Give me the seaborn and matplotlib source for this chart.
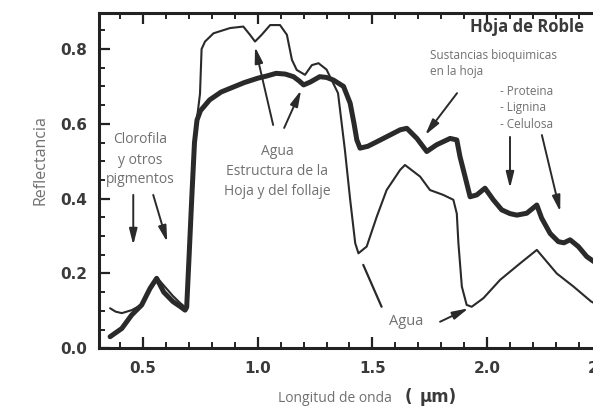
import matplotlib
matplotlib.use("Agg")
import matplotlib.pyplot as plt
from matplotlib.ticker import MultipleLocator, FixedLocator
import seaborn as sns
import pandas as pd

# Espectro de hoja verde (línea fina)
wl_verde = [0.356, 0.38, 0.407, 0.45, 0.48, 0.50, 0.53, 0.559, 0.59, 0.63, 0.66, 0.683,
            0.69, 0.70, 0.712, 0.724, 0.74, 0.748, 0.755, 0.77, 0.807, 0.879, 0.937, 0.966,
            0.988, 1.017, 1.054, 1.097, 1.127, 1.149, 1.17, 1.206, 1.236, 1.265, 1.30,
            1.35, 1.38, 1.403, 1.425, 1.439, 1.475, 1.519, 1.562, 1.621, 1.642, 1.708,
            1.751, 1.809, 1.853, 1.868, 1.875, 1.89, 1.911, 1.933, 1.984, 2.057, 2.144,
            2.217, 2.304, 2.377, 2.454, 2.50]
refl_verde = [0.107, 0.098, 0.094, 0.102, 0.112, 0.12, 0.162, 0.19, 0.168, 0.14, 0.122, 0.11,
              0.115, 0.24, 0.40, 0.56, 0.64, 0.68, 0.80, 0.82, 0.842, 0.856, 0.86, 0.838,
              0.82, 0.838, 0.864, 0.864, 0.838, 0.771, 0.744, 0.731, 0.757, 0.762, 0.745,
              0.682, 0.53, 0.397, 0.281, 0.254, 0.272, 0.352, 0.423, 0.477, 0.49, 0.459,
              0.423, 0.41, 0.397, 0.36, 0.281, 0.165, 0.116, 0.111, 0.134, 0.183, 0.227,
              0.263, 0.20, 0.165, 0.125, 0.11]

# Espectro de hoja seca (línea gruesa)
wl_seca = [0.356, 0.407, 0.45, 0.494, 0.53, 0.559, 0.59, 0.63, 0.661, 0.683, 0.69, 0.70,
           0.712, 0.724, 0.735, 0.75, 0.79, 0.84, 0.88, 0.94, 1.00, 1.04, 1.08, 1.12,
           1.156, 1.18, 1.20, 1.23, 1.27, 1.30, 1.33, 1.374, 1.403, 1.42, 1.432, 1.446,
           1.48, 1.519, 1.57, 1.621, 1.65, 1.694, 1.737, 1.78, 1.839, 1.868, 1.882, 1.904,
           1.926, 1.955, 1.991, 2.027, 2.064, 2.10, 2.13, 2.173, 2.217, 2.238, 2.275,
           2.311, 2.335, 2.362, 2.398, 2.435, 2.47, 2.50]
refl_seca = [0.031, 0.053, 0.089, 0.116, 0.16, 0.187, 0.15, 0.125, 0.112, 0.102, 0.11, 0.24,
             0.40, 0.55, 0.61, 0.635, 0.664, 0.685, 0.695, 0.71, 0.722, 0.728, 0.735, 0.733,
             0.726, 0.715, 0.704, 0.712, 0.726, 0.724, 0.717, 0.70, 0.655, 0.60, 0.557, 0.535,
             0.54, 0.552, 0.568, 0.584, 0.588, 0.561, 0.526, 0.544, 0.561, 0.557, 0.512, 0.459,
             0.405, 0.41, 0.428, 0.397, 0.37, 0.36, 0.356, 0.361, 0.383, 0.348, 0.307,
             0.285, 0.282, 0.29, 0.272, 0.245, 0.23, 0.22]

x_ticks = [0.5, 1.0, 1.5, 2.0, 2.5]
x_tick_labels = ["0.5", "1.0", "1.5", "2.0", "2.5"]
y_ticks = [0.0, 0.2, 0.4, 0.6, 0.8]
y_tick_labels = ["0.0", "0.2", "0.4", "0.6", "0.8"]

sns.set_theme(style="ticks")
plt.rcParams["font.family"] = ["DejaVu Sans"]

INK = "#2a2a2a"
TXT = "#707070"

fig = plt.figure(figsize=(5.93, 4.09), dpi=100)
fig.patch.set_facecolor("white")
ax = fig.add_axes([0.1675, 0.1484, 0.8936, 0.8205])
ax.set_facecolor("white")

verde = pd.DataFrame({"wl": wl_verde, "r": refl_verde})
seca = pd.DataFrame({"wl": wl_seca, "r": refl_seca})
sns.lineplot(data=verde, x="wl", y="r", ax=ax, color=INK, linewidth=1.5,
             sort=False, estimator=None)
sns.lineplot(data=seca, x="wl", y="r", ax=ax, color=INK, linewidth=3.6,
             sort=False, estimator=None)
for ln in ax.get_lines():
    ln.set_solid_joinstyle("round")
    ln.set_solid_capstyle("round")

ax.set_xlim(0.309, 2.62)
ax.set_ylim(0.0, 0.897)

ax.xaxis.set_major_locator(FixedLocator(x_ticks))
ax.set_xticklabels(x_tick_labels)
ax.yaxis.set_major_locator(FixedLocator(y_ticks))
ax.set_yticklabels(y_tick_labels)
ax.xaxis.set_minor_locator(MultipleLocator(0.1))
ax.yaxis.set_minor_locator(MultipleLocator(0.05))
ax.tick_params(which="both", direction="in", top=True, right=False, color="#222222")
ax.tick_params(which="major", length=8, width=1.6, pad=9, labelsize=11,
               labelcolor="#3a3a3a")
ax.tick_params(which="minor", length=4, width=1.4)
for lab in ax.get_xticklabels() + ax.get_yticklabels():
    lab.set_fontweight("bold")

for side in ["left", "bottom", "top"]:
    ax.spines[side].set_linewidth(2.2)
    ax.spines[side].set_color("#222222")
ax.spines["right"].set_visible(False)

ax.set_xlabel("")
ax.set_ylabel("")

# Etiquetas de los ejes
fig.text(40 / 593, 1 - 160 / 409, "Reflectancia", rotation=90, ha="center", va="center",
         fontsize=11.5, color=TXT, family="Open Sans")
fig.text(335 / 593, 1 - 399 / 409, "Longitud de onda", ha="center", va="center",
         fontsize=10, color=TXT, family="Open Sans")
fig.text(405 / 593, 1 - 397 / 409, "(", ha="left", va="center",
         fontsize=12, color="#3a3a3a", family="DejaVu Sans", fontweight="bold")
fig.text(420 / 593, 1 - 397 / 409, "\u00b5m)", ha="left", va="center",
         fontsize=12, color="#3a3a3a", family="DejaVu Sans", fontweight="bold")

# Textos explicativos
ann = dict(color=TXT, family="Open Sans")
ax.text(2.175, 0.859, "Hoja de Roble", ha="center", va="center", fontsize=12,
        fontweight="bold", color="#3a3a3a", family="Open Sans")
ax.text(1.752, 0.782, "Sustancias bioquimicas", ha="left", va="center", fontsize=8.5, **ann)
ax.text(1.752, 0.741, "en la hoja", ha="left", va="center", fontsize=8.5, **ann)
ax.text(2.057, 0.686, "- Proteina", ha="left", va="center", fontsize=8.5, **ann)
ax.text(2.057, 0.643, "- Lignina", ha="left", va="center", fontsize=8.5, **ann)
ax.text(2.057, 0.597, "- Celulosa", ha="left", va="center", fontsize=8.5, **ann)
ax.text(0.487, 0.557, "Clorofila", ha="center", va="center", fontsize=10, **ann)
ax.text(0.487, 0.503, "y otros", ha="center", va="center", fontsize=10, **ann)
ax.text(0.487, 0.450, "pigmentos", ha="center", va="center", fontsize=10, **ann)
ax.text(1.084, 0.526, "Agua", ha="center", va="center", fontsize=10, **ann)
ax.text(1.084, 0.472, "Estructura de la", ha="center", va="center", fontsize=10, **ann)
ax.text(1.084, 0.419, "Hoja y del follaje", ha="center", va="center", fontsize=10, **ann)
ax.text(1.646, 0.071, "Agua", ha="center", va="center", fontsize=10.5, **ann)

arrow = dict(arrowstyle="-|>,head_length=0.8,head_width=0.2", color=INK, lw=1.4,
             shrinkA=0, shrinkB=0)
flechas = [
    ((0.457, 0.41), (0.457, 0.276)),
    ((0.544, 0.41), (0.605, 0.284)),
    ((1.067, 0.597), (0.988, 0.806)),
    ((1.115, 0.589), (1.189, 0.69)),
    ((1.869, 0.682), (1.73, 0.57)),
    ((2.10, 0.565), (2.10, 0.428)),
    ((2.239, 0.57), (2.319, 0.365)),
    ((1.795, 0.071), (1.919, 0.107)),
]
for tail, head in flechas:
    ax.annotate("", xy=head, xytext=tail, arrowprops=arrow)
ax.annotate("", xy=(1.46, 0.223), xytext=(1.54, 0.111),
            arrowprops=dict(arrowstyle="-", color=INK, lw=1.6, shrinkA=0, shrinkB=0))

fig.savefig("out.png", dpi=100)
